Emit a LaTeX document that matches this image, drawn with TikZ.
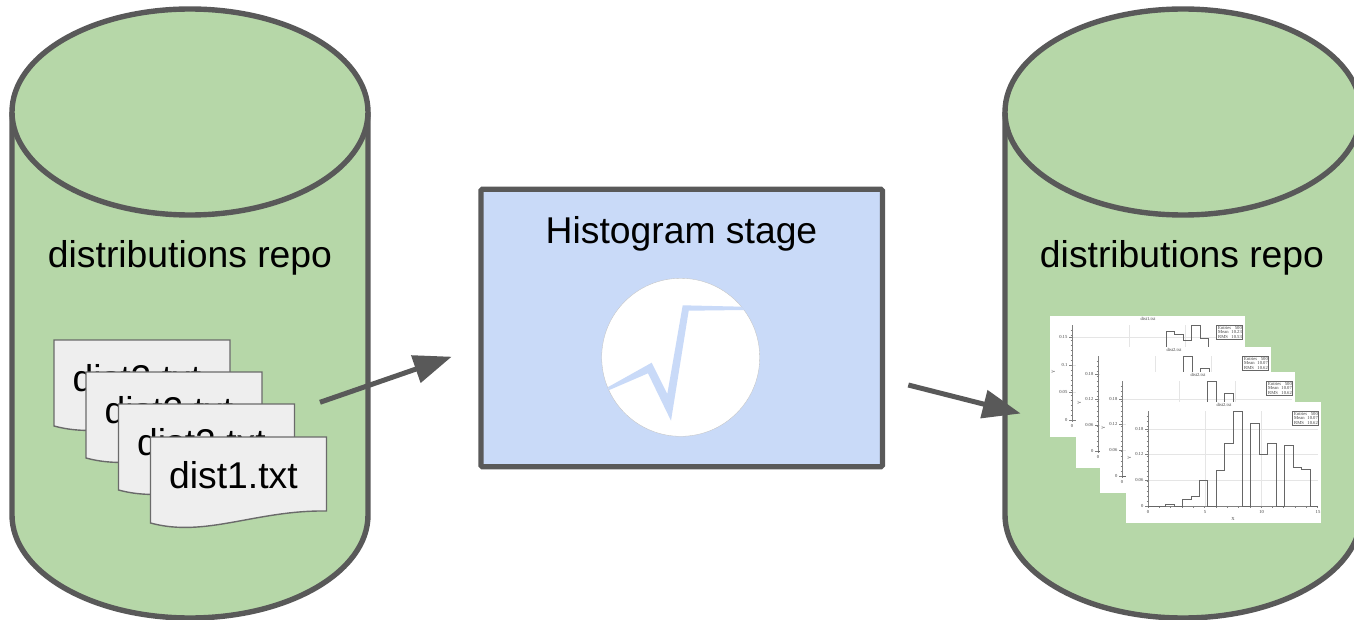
\documentclass[tikz,border=0pt]{standalone}
\usepackage{fontspec}
\setmainfont{Liberation Sans}
\newfontfamily\plotfont{Liberation Serif}
\usetikzlibrary{arrows.meta}
\definecolor{repogreen}{HTML}{B6D7A8}
\definecolor{stageblue}{HTML}{C9DAF8}
\definecolor{darkline}{HTML}{595959}
\definecolor{sheetgrey}{HTML}{EEEEEE}
\tikzset{
  repo/.style={draw=darkline, fill=repogreen, line width=5.4pt},
  sheet/.style={draw=darkline!90, fill=sheetgrey, line width=1.4pt},
  bigtext/.style={font=\fontsize{37.3}{42}\selectfont, inner sep=0pt, text=black},
  flow/.style={draw=darkline, line width=5pt, -{Triangle[length=38pt, width=28pt]}},
  tick/.style={draw=black!50, line width=0.35pt},
  grid/.style={draw=black!10, line width=0.5pt},
  plotlabel/.style={font=\fontsize{4.6}{5}\plotfont, inner sep=0pt, text=black!75},
}
% cylinder, centred on x = #1
\newcommand{\repocylinder}[1]{
  \draw[repo] (#1-178, 112) -- (#1-178, 515)
    arc[start angle=180, end angle=0, x radius=178, y radius=103] -- (#1+178, 112);
  \draw[repo] (#1, 112) ellipse [x radius=178, y radius=103];
}
% file sheet, top left corner at (#1,#2)
\newcommand{\filesheet}[3]{
  \draw[sheet] (#1, #2) -- (#1+176, #2) -- (#1+176, #2+74)
    .. controls (#1+105, #2+73) and (#1+55, #2+101) .. (#1, #2+86) -- cycle;
  \node[bigtext, anchor=west] (#3) at (#1+18.5, #2+38) {dist#3.txt};
}
% histogram panel, top left corner at (#1,#2)
\newcommand{\plotpanel}[8]{
  \begin{scope}[shift={(#1, #2)}]
    \fill[white] (0, 0) rectangle (195, 121);
    \foreach \gy in {#4} {\draw[grid] (22, \gy) -- (192, \gy); \draw[tick] (19, \gy) -- (22, \gy);}
    \foreach \gx in {79, 135.7} {\draw[grid] (\gx, 9) -- (\gx, 104);}
    \foreach \ty in {14, 19, ..., 104} {\draw[tick] (20.5, \ty) -- (22, \ty);}
    \foreach \tx in {22, 33.3, ..., 192} {\draw[tick] (\tx, 104) -- (\tx, 105.5);}
    \draw[tick] (22, 9) -- (22, 104) -- (192, 104);
    \node[plotlabel] (t#3) at (98, 3.3) {dist#3.txt};
    \node[plotlabel, rotate=90] (y#3) at (3.3, 56) {Y};
    \node[plotlabel] (x#3) at (107, 117) {X};
    \foreach \tl/\ty in {#5} {\node[plotlabel, anchor=east] at (17.5, \ty) {\tl};}
    \foreach \tl/\tx in {0/22, 5/79, 10/135.7, 15/192} {\node[plotlabel] at (\tx, 110) {\tl};}
    \draw[black!60, line width=0.7pt] #6;
    \draw[black!60, line width=0.6pt, fill=white] (166.7, 9.7) rectangle (192.7, 23);
    \node[plotlabel, anchor=west] at (168, 12) {Entries};
    \node[plotlabel, anchor=west] at (168, 16.4) {Mean};
    \node[plotlabel, anchor=west] at (168, 20.8) {RMS};
    \node[plotlabel, anchor=east] at (192, 12) {500};
    \node[plotlabel, anchor=east] at (192, 16.4) {#7};
    \node[plotlabel, anchor=east] at (192, 20.8) {#8};
  \end{scope}
}
\newcommand{\histtwo}{(22,104) -- (39,104) -- (39,102.3) -- (48,102.3) -- (48,104) -- (56.7,104) -- (56.7,97.3)
  -- (65,97.3) -- (65,94.7) -- (73.3,94.7) -- (73.3,78.3) -- (81.7,78.3) -- (81.7,104) -- (90.3,104)
  -- (90.3,68.3) -- (98.7,68.3) -- (98.7,41.3) -- (107.3,41.3) -- (107.3,9) -- (116,9) -- (116,104)
  -- (124.7,104) -- (124.7,21.3) -- (133,21.3) -- (133,52) -- (141.3,52) -- (141.3,41.3) -- (150,41.3)
  -- (150,104) -- (158.3,104) -- (158.3,43) -- (167,43) -- (167,65.7) -- (175.7,65.7) -- (175.7,67)
  -- (184,67) -- (184,104) -- (192.3,104)}
\newcommand{\histone}{(116,32) -- (116,15) -- (124.7,15) -- (124.7,18.3) -- (133.3,18.3) -- (133.3,24)
  -- (141.3,24) -- (141.3,9) -- (150,9) -- (150,22.3) -- (158.3,22.3) -- (158.3,32)}
\begin{document}
\begin{tikzpicture}[x=1pt, y=-1pt]
  \clip (0, 0) rectangle (1354, 620);
  \repocylinder{190}
  \repocylinder{1183}
  \node[bigtext] (repoin) at (190, 258) {distributions repo};
  \node[bigtext] (repoout) at (1182, 258) {distributions repo};
  % input files
  \filesheet{54}{340}{2}
  \filesheet{86}{372}{2}
  \filesheet{118.5}{404}{2}
  \filesheet{150.5}{437}{1}
  % stage
  \node[draw=darkline, fill=stageblue, line width=5.3pt, rounded corners=1.5pt, minimum width=401.5pt, minimum height=277.5pt, inner sep=0pt, outer sep=0pt] (stage) at (681.7, 328) {};
  \node[bigtext] (stagetitle) at (681.5, 234) {Histogram stage};
  \fill[white] (680.7, 357.3) circle [radius=79];
  \draw[black!25, line width=0.3pt] (680.7, 357.3) circle [radius=79];
  \fill[stageblue] (607.7,387.3) -- (651.7,362.7) -- (667.3,394) -- (682.7,305.3) -- (741.7,306.7)
    -- (744.3,310) -- (688.7,310.7) -- (671,420.7) -- (648,373.3) -- (609.3,390) -- cycle;
  % output plots
  \plotpanel{1050}{316}{1}{21.3, 49, 76.3, 104}{0.15/21.3, 0.1/49, 0.05/76.3, 0/104}{\histone}{10.23}{10.53}
  \plotpanel{1076}{347}{2}{27.3, 52, 78.3, 104}{0.18/27.3, 0.12/52, 0.06/78.3, 0/104}{\histtwo}{10.07}{10.62}
  \plotpanel{1100}{372}{2}{27.3, 52, 78.3, 104}{0.18/27.3, 0.12/52, 0.06/78.3, 0/104}{\histtwo}{10.07}{10.62}
  \plotpanel{1126}{402}{2}{27.3, 52, 78.3, 104}{0.18/27.3, 0.12/52, 0.06/78.3, 0/104}{\histtwo}{10.07}{10.62}
  % arrows
  \coordinate (infrom) at (320, 402.3);
  \coordinate (into) at (451.7, 356.7);
  \coordinate (outfrom) at (908.3, 385);
  \coordinate (outto) at (1020.7, 413.5);
  \draw[flow] (infrom) -- (into);
  \draw[flow] (outfrom) -- (outto);
\end{tikzpicture}
\end{document}
